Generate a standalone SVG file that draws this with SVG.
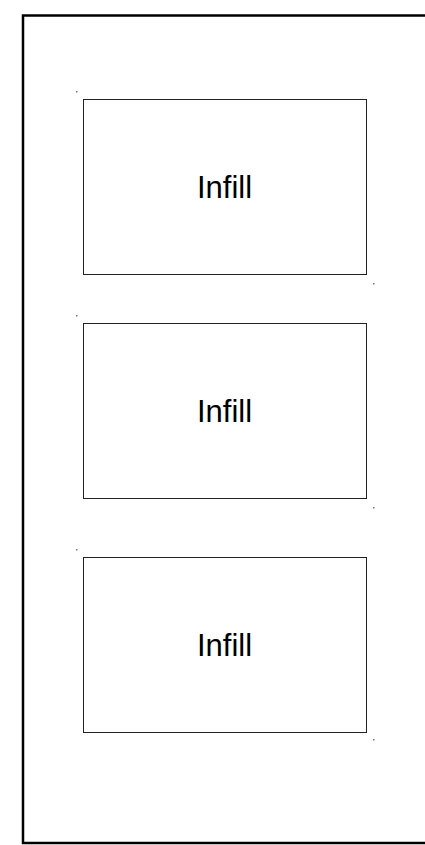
<svg xmlns="http://www.w3.org/2000/svg" width="425" height="845" viewBox="0 0 425 845">
<style>
.frame{fill:none;stroke:#000;stroke-width:2.5}
.box{fill:#fff;stroke:#222;stroke-width:1}
.lbl{font-family:"Liberation Sans",Arial,sans-serif;font-size:31px;fill:#000;text-anchor:middle}
.dot{fill:#777}
</style>
<rect width="425" height="845" fill="#fff"/>
<rect class="frame" x="23" y="15.5" width="420" height="827.5"/>
<g id="node1">
<rect class="box" x="83.5" y="99.5" width="283" height="175"/>
<text class="lbl" x="224.5" y="198">Infill</text>
<rect class="dot" x="76" y="91" width="1.5" height="1.5"/>
<rect class="dot" x="373" y="283" width="1.5" height="1.5"/>
</g>
<g id="node2">
<rect class="box" x="83.5" y="323.5" width="283" height="175"/>
<text class="lbl" x="224.5" y="422">Infill</text>
<rect class="dot" x="76" y="315" width="1.5" height="1.5"/>
<rect class="dot" x="373" y="507" width="1.5" height="1.5"/>
</g>
<g id="node3">
<rect class="box" x="83.5" y="557.5" width="283" height="175"/>
<text class="lbl" x="224.5" y="656">Infill</text>
<rect class="dot" x="76" y="549" width="1.5" height="1.5"/>
<rect class="dot" x="373" y="739" width="1.5" height="1.5"/>
</g>
<g id="connectors"></g>
</svg>
